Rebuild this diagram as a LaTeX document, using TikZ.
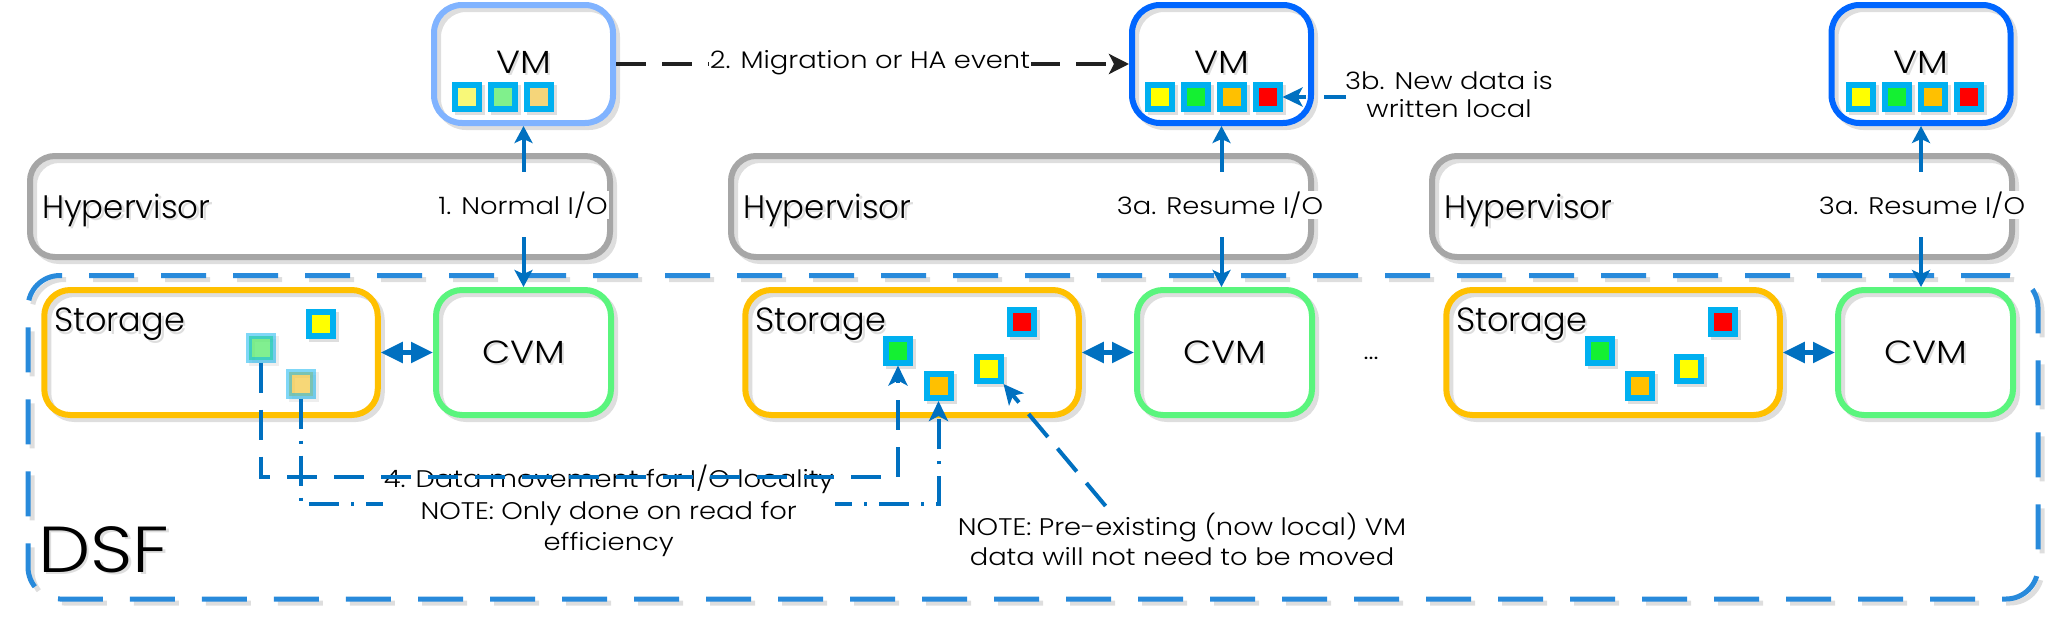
\documentclass[tikz,border=0pt]{standalone}
\usepackage{fontspec}
\setmainfont{Poppins Light}
\newfontfamily\widef{Poppins Light}[FakeStretch=1.14]
\usetikzlibrary{arrows.meta}
\definecolor{vmblue}{RGB}{0,102,255}
\definecolor{vmfade}{RGB}{128,179,255}
\definecolor{hvgray}{RGB}{166,166,166}
\definecolor{storor}{RGB}{255,192,0}
\definecolor{cvmgr}{RGB}{90,245,125}
\definecolor{dsfblue}{RGB}{40,138,219}
\definecolor{iob}{RGB}{0,112,192}
\definecolor{sqcy}{RGB}{0,176,240}
\definecolor{sqye}{RGB}{255,255,0}
\definecolor{sqgr}{RGB}{20,240,50}
\definecolor{sqor}{RGB}{255,192,0}
\definecolor{sqre}{RGB}{255,0,0}
\definecolor{pye}{RGB}{248,248,120}
\definecolor{pgr}{RGB}{128,240,140}
\definecolor{por}{RGB}{245,213,122}
\definecolor{shd}{RGB}{222,222,222}
\newcommand\shtxt[1]{\makebox[0pt][l]{\kern2.5pt\raisebox{-2.5pt}{\textcolor{shd}{#1}}}#1}
\begin{document}
\begin{tikzpicture}[x=1pt,y=-1pt,
  shadowed/.style={preaction={draw=shd, transform canvas={xshift=4pt,yshift=-4pt}}},
  boxbase/.style={rectangle, inner sep=0pt, line width=6pt, shadowed},
  hvbox/.style={boxbase, draw=hvgray, rounded corners=25pt, minimum width=580pt, minimum height=101pt},
  vmbox/.style={boxbase, rounded corners=28pt, minimum width=179pt, minimum height=118pt},
  stbox/.style={boxbase, draw=storor, rounded corners=26pt, minimum width=333.5pt, minimum height=125pt},
  cvbox/.style={boxbase, draw=cvmgr, rounded corners=26pt, minimum width=175pt, minimum height=125pt},
  dsfbox/.style={rectangle, inner sep=0pt, draw=dsfblue, line width=5pt, dash pattern=on 45pt off 27pt, rounded corners=32pt, minimum width=2010pt, minimum height=323.5pt, shadowed},
  sq/.style={rectangle, inner sep=0pt, draw=sqcy, line width=6pt, minimum size=24pt, preaction={fill=shd, draw=shd, transform canvas={xshift=3pt,yshift=-3pt}}},
  fade/.style={opacity=0.5},
  txt/.style={inner sep=0pt, text=black},
  lab/.style={txt, font=\widef\fontsize{24}{30}\selectfont},
  io/.style={draw=iob, line width=4pt, {Stealth[length=17pt,width=18pt,inset=4pt]}-{Stealth[length=17pt,width=18pt,inset=4pt]}, dash pattern=on 34pt off 44pt on 3pt off 18pt on 80pt},
  dbl/.style={draw=iob, line width=5pt, {Triangle[length=22pt,width=20pt]}-{Triangle[length=22pt,width=20pt]}},
  mig/.style={draw=black!87, line width=4.5pt, dash pattern=on 30pt off 16pt, -{Stealth[length=20pt,width=20pt,inset=5pt]}},
  blarr/.style={draw=iob, line width=4pt, -{Stealth[length=20pt,width=19pt,inset=5pt]}},
]
\useasboundingbox (0,0) rectangle (2051,624);

% DSF container
\node[dsfbox] (dsf) at (1033,437.25) {};
\node[txt, font=\widef\fontsize{65}{70}\selectfont, anchor=base west] (dsft) at (38,572) {\shtxt{DSF}};

% columns
\foreach \i/\dx in {1/0,2/701,3/1402}{
  \node[hvbox] (hv\i) at (320+\dx,206.5) {};
  \node[txt, font=\fontsize{32.5}{40}\selectfont, anchor=base west] (hvt\i) at (42+\dx,218) {\shtxt{Hypervisor}};
  \node[stbox] (st\i) at (211+\dx,352.5) {};
  \node[txt, font=\fontsize{33.5}{40}\selectfont, anchor=base west] (stt\i) at (54+\dx,331.5) {\shtxt{Storage}};
  \node[cvbox] (cv\i) at (523.5+\dx,352.5) {};
  \node[txt, font=\widef\fontsize{32}{40}\selectfont, anchor=base] (cvt\i) at (523.5+\dx,363) {\shtxt{CVM}};
  \draw[dbl] (st\i.east) -- (cv\i.west);
}

% VMs
\node[vmbox, draw=vmfade] (vm1) at (523.5,64) {};
\node[vmbox, draw=vmblue] (vm2) at (1221.5,64) {};
\node[vmbox, draw=vmblue] (vm3) at (1921,64) {};
\foreach \i/\x in {1/523.5,2/1221.5,3/1921}{
  \node[txt, font=\widef\fontsize{32}{40}\selectfont, anchor=base] (vmt\i) at (\x,73) {\shtxt{VM}};
}
% VM squares
\node[sq, fill=pye] (v11) at (466.7,97) {};
\node[sq, fill=pgr] (v12) at (502.7,97) {};
\node[sq, fill=por] (v13) at (538.7,97) {};
\node[sq, fill=sqye] (v21) at (1159.5,97) {};
\node[sq, fill=sqgr] (v22) at (1195.5,97) {};
\node[sq, fill=sqor] (v23) at (1231.5,97) {};
\node[sq, fill=sqre] (v24) at (1267.5,97) {};
\node[sq, fill=sqye] (v31) at (1861,97) {};
\node[sq, fill=sqgr] (v32) at (1897,97) {};
\node[sq, fill=sqor] (v33) at (1933,97) {};
\node[sq, fill=sqre] (v34) at (1969,97) {};

% storage squares
\node[sq, fill=sqye] (q11) at (320.5,323.5) {};
\node[sq, fill=sqgr, fade] (q12) at (260.7,347.5) {};
\node[sq, fill=sqor, fade] (q13) at (300.7,383.5) {};
\node[sq, fill=sqgr] (q21) at (898,350.5) {};
\node[sq, fill=sqor] (q22) at (938.5,386) {};
\node[sq, fill=sqye] (q23) at (988.5,369) {};
\node[sq, fill=sqre] (q24) at (1022,322) {};
\node[sq, fill=sqgr] (q31) at (1599.5,350.5) {};
\node[sq, fill=sqor] (q32) at (1639.5,386) {};
\node[sq, fill=sqye] (q33) at (1689,369) {};
\node[sq, fill=sqre] (q34) at (1723,321.5) {};

% I/O arrows
\foreach \i in {1,2,3}{
  \draw[io] (vm\i.south) -- (vm\i.south |- cv\i.north);
}
\node[lab, fill=white, inner sep=1pt] (io1) at (523,205) {1. Normal I/O};
\node[lab, fill=white, inner sep=1pt] (io2) at (1220,205) {3a. Resume I/O};
\node[lab, fill=white, inner sep=1pt] (io3) at (1922,205) {3a. Resume I/O};

% migration
\draw[mig] (vm1.east) -- (vm2.west);
\node[lab, fill=white, inner sep=1pt] (migl) at (870,63) {2. Migration or HA event};

% 3b
\coordinate (b3) at (1346,97);
\draw[blarr, dash pattern=on 22pt off 18pt] (b3) -- (v24.east);
\node[lab, align=center, font=\widef\fontsize{24}{28}\selectfont] (l3b) at (1449,95) {3b. New data is\\written local};

% data movement
\coordinate (yA) at (0,477);
\coordinate (yB) at (0,504);
\draw[blarr, dash pattern=on 30pt off 12pt on 3pt off 12pt] (q13.south) -- (q13.south |- yB) -| (q22.south);
\node[lab, align=center, fill=white, inner sep=1pt, font=\widef\fontsize{24}{31.5}\selectfont] (l4) at (608.7,511) {4. Data movement for I/O locality\\NOTE: Only done on read for\\efficiency};
\draw[blarr, dash pattern=on 30pt off 17pt] (q12.south) -- (q12.south |- yA) -| (q21.south);

\coordinate (cst) at (1105.6,506);
\draw[blarr, dash pattern=on 30pt off 15pt] (cst) -- (q23.south east);
\node[lab, align=center] (lc) at (1182,539) {NOTE: Pre-existing (now local) VM\\data will not need to be moved};

\node[lab, anchor=base] (dots) at (1371,359) {...};
\end{tikzpicture}
\end{document}
